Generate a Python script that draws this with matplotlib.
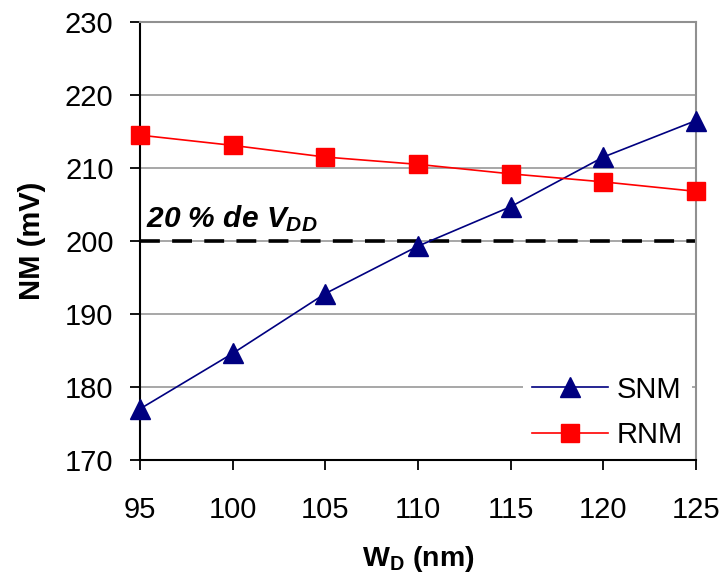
import matplotlib
matplotlib.use('Agg')
import matplotlib.pyplot as plt

plt.rcParams['font.family'] = ['Liberation Sans', 'DejaVu Sans']
plt.rcParams['mathtext.fontset'] = 'custom'
plt.rcParams['mathtext.rm'] = 'Liberation Sans'
plt.rcParams['mathtext.bf'] = 'Liberation Sans:bold'
plt.rcParams['mathtext.it'] = 'Liberation Sans:italic:bold'

# data
wd = [95, 100, 105, 110, 115, 120, 125]
snm = [177.0, 184.6, 192.8, 199.3, 204.7, 211.5, 216.5]
rnm = [214.5, 213.1, 211.5, 210.5, 209.2, 208.1, 206.8]
limit = 200
yticks = [170, 180, 190, 200, 210, 220, 230]

fig = plt.figure(figsize=(7.23, 5.79), dpi=100)
ax = fig.add_axes([0.1936, 0.2055, 0.7691, 0.7565])

ax.grid(axis='y', color='#a0a0a0', linewidth=1.3, zorder=0)
ax.set_axisbelow(True)

ax.axhline(limit, color='black', linewidth=2.6, linestyle=(0, (5.5, 3.4)), zorder=2)
ax.plot(wd, snm, color='#000080', linewidth=1.2, marker='^', markersize=14,
        label='SNM', zorder=3, clip_on=False)
ax.plot(wd, rnm, color='#ff0000', linewidth=1.2, marker='s', markersize=13,
        label='RNM', zorder=3, clip_on=False)

ax.text(95.3, 201.9, r"20 % de $V_{DD}$", fontsize=21.5, fontweight='bold',
        fontstyle='italic', va='baseline', ha='left', zorder=4)

ax.set_xlim(95, 125)
ax.set_ylim(170, 230)
ax.set_xticks(wd)
ax.set_yticks(yticks)
ax.tick_params(axis='both', direction='out', length=7, width=1.3, labelsize=21)
ax.tick_params(axis='x', pad=19)
ax.tick_params(axis='y', pad=12)

for side in ['left', 'bottom']:
    ax.spines[side].set_color('black')
    ax.spines[side].set_linewidth(1.5)
for side in ['top', 'right']:
    ax.spines[side].set_color('#909090')
    ax.spines[side].set_linewidth(1.5)

ax.set_ylabel('NM (mV)', fontsize=21, fontweight='bold', labelpad=14)
ax.set_xlabel(r'W$_{\mathbf{D}}$ (nm)', fontsize=20.5, fontweight='bold', labelpad=14)

leg = ax.legend(loc='lower right', bbox_to_anchor=(0.992, 0.005), fontsize=21,
                frameon=True, fancybox=False, edgecolor='none', facecolor='white',
                framealpha=1, handlelength=2.6, handletextpad=0.3,
                labelspacing=0.6, borderpad=0.3, borderaxespad=0, markerscale=1.0)
leg.set_zorder(5)

fig.savefig('out.png', dpi=100)
plt.close(fig)
